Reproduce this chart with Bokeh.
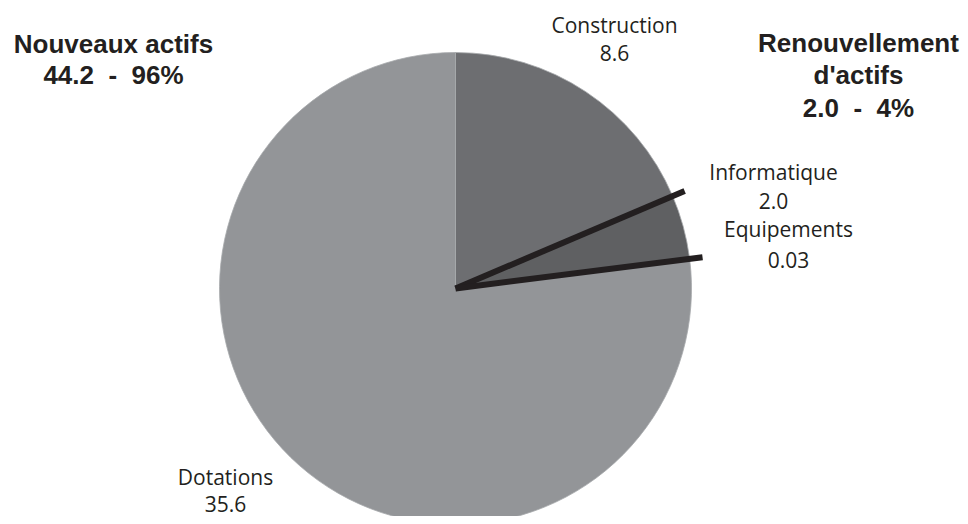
import math
from bokeh.plotting import figure
from bokeh.models import Range1d, ColumnDataSource
from bokeh.core.properties import value
from bokeh.embed import file_html
from bokeh.resources import INLINE

# ---- data ----
categories = ["Construction", "Informatique", "Equipements", "Dotations"]
values = [8.6, 2.0, 0.03, 35.6]
groups = ["Nouveaux actifs", "Renouvellement d'actifs"]
group_members = [["Construction", "Dotations"], ["Informatique", "Equipements"]]
colors = ["#6d6e71", "#5f6062", "#a7a9ac", "#939598"]

# ---- layout (picture pixels) ----
W, H = 960, 516
PAGE_H = 524
CX, CY, R = 455, 288, 236
SEP_LEN = 249
TXT_SHIFT = 8  # text baseline correction

def Y(py):
    return PAGE_H - py

def TY(py):
    return PAGE_H - (py - TXT_SHIFT)

p = figure(width=W, height=H, output_backend="svg", toolbar_location=None,
           x_range=Range1d(0, W), y_range=Range1d(PAGE_H - H, PAGE_H),
           min_border=0, outline_line_color=None)
p.axis.visible = False
p.grid.visible = False
p.background_fill_color = "white"

total = sum(values)
starts, ends = [], []
cum = 0.0
for v in values:
    starts.append(math.pi / 2 - 2 * math.pi * cum / total)
    cum += v
    ends.append(math.pi / 2 - 2 * math.pi * cum / total)

src = ColumnDataSource(dict(cat=categories, val=values, start=starts, end=ends, color=colors,
                            x=[CX] * 4, y=[Y(CY)] * 4))
p.wedge(x="x", y="y", radius=R, start_angle="start", end_angle="end", direction="clock",
        fill_color="color", line_color="#a7a9ac", line_width=0.8, source=src)

# separator lines around the "renouvellement" group
idx = [categories.index(c) for c in group_members[1]]
sep_angles = [starts[min(idx)], ends[max(idx)]]
p.ray(x=[CX, CX], y=[Y(CY), Y(CY)], length=SEP_LEN, angle=sep_angles,
      line_color="#231f20", line_width=6, line_cap="butt")

# category labels
label_pos = {
    "Construction": (614, 32, 60),
    "Informatique": (773, 179, 208),
    "Equipements": (788, 236, 267),
    "Dotations": (225, 484, 511),
}
lx, ly, lt = [], [], []
for c, v in zip(categories, values):
    x0, b1, b2 = label_pos[c]
    lx += [x0, x0]
    ly += [TY(b1), TY(b2)]
    lt += [c, str(v)]
p.text(x=lx, y=ly, text=lt, text_font=value("Open Sans"), text_font_size="21px",
       text_align="center", text_baseline="alphabetic", text_color="#231f20")

# group labels
gx, gy, gt = [], [], []
group_pos = [(113, [51, 82]), (858, [50, 82, 115])]
group_lines = [["Nouveaux actifs"], ["Renouvellement", "d'actifs"]]
NB = "\u00a0"
for g, members, (x0, bases), lines in zip(groups, group_members, group_pos, group_lines):
    s = sum(values[categories.index(m)] for m in members)
    pct = 100 * s / total
    texts = lines + [f"{s:.1f}{NB} -{NB} {pct:.0f}%"]
    for t, b in zip(texts, bases):
        gx.append(x0)
        gy.append(TY(b))
        gt.append(t)
p.text(x=gx, y=gy, text=gt, text_font=value("Liberation Sans"), text_font_size="26px",
       text_font_style="bold", text_align="center", text_baseline="alphabetic",
       text_color="#231f20")

open("out.html", "w").write(file_html(p, INLINE))
